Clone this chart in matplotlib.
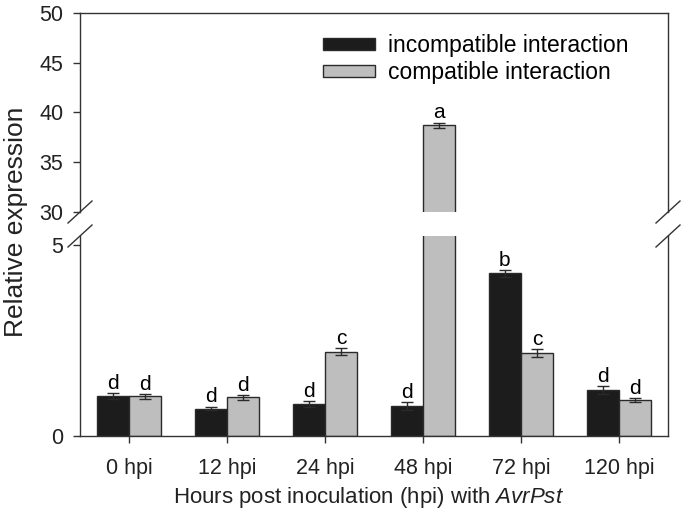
import matplotlib
matplotlib.use('Agg')
import matplotlib.pyplot as plt
import numpy as np

plt.rcParams['font.family'] = ['Liberation Sans', 'DejaVu Sans']
plt.rcParams['mathtext.fontset'] = 'custom'
plt.rcParams['mathtext.rm'] = 'Liberation Sans'
plt.rcParams['mathtext.it'] = 'Liberation Sans:italic'

# data
timepoints = ['0 hpi', '12 hpi', '24 hpi', '48 hpi', '72 hpi', '120 hpi']
incompatible = [1.05, 0.72, 0.84, 0.79, 4.26, 1.20]
incompatible_err = [0.08, 0.05, 0.08, 0.10, 0.09, 0.10]
incompatible_letters = ['d', 'd', 'd', 'd', 'b', 'd']
compatible = [1.04, 1.01, 2.21, 38.74, 2.18, 0.94]
compatible_err = [0.06, 0.07, 0.10, 0.25, 0.10, 0.06]
compatible_letters = ['d', 'd', 'c', 'a', 'c', 'd']

black = '#1c1c1c'
grey = '#bebebe'
edge = '#2a2a2a'

fig = plt.figure(figsize=(6.85, 5.12), dpi=100)
W, H = 685, 512
left, right = 80 / W, 668 / W
ax_top = fig.add_axes([left, 1 - 212 / H, right - left, (212 - 13) / H])
ax_bot = fig.add_axes([left, 1 - 436 / H, right - left, (436 - 236) / H])

x = np.arange(len(timepoints))
w = 0.33

for ax in (ax_top, ax_bot):
    ax.bar(x - w / 2, incompatible, w, color=black, edgecolor=edge, linewidth=1,
           yerr=incompatible_err, capsize=4.3, error_kw=dict(elinewidth=1, capthick=1, ecolor=edge),
           label='incompatible interaction')
    ax.bar(x + w / 2, compatible, w, color=grey, edgecolor=edge, linewidth=1,
           yerr=compatible_err, capsize=4.3, error_kw=dict(elinewidth=1, capthick=1, ecolor=edge),
           label='compatible interaction')
    ax.set_xlim(-0.5, 5.5)
    for sp in ax.spines.values():
        sp.set_linewidth(1)
        sp.set_color('#333333')
    ax.tick_params(direction='out', length=5, width=1, labelsize=15.5, colors='#333333',
                   labelcolor='#222222')
    ax.tick_params(axis='y', pad=7)

ax_top.set_ylim(30, 50)
ax_top.set_yticks([30, 35, 40, 45, 50])
ax_top.spines['bottom'].set_visible(False)
ax_top.tick_params(axis='x', bottom=False, labelbottom=False)

ax_bot.set_ylim(0, 5.24)
ax_bot.set_yticks([0, 5])
ax_bot.spines['top'].set_visible(False)
ax_bot.set_xticks(x)
ax_bot.set_xticklabels(timepoints)
ax_bot.tick_params(axis='x', pad=11)

fig.text(369 / W, 1 - 497 / H, r'Hours post inoculation (hpi) with $\it{AvrPst}$',
         ha='center', va='center', fontsize=16, color='#222222')

# significance letters
for i in range(len(timepoints)):
    for xv, v, e, t in ((x[i] - w / 2, incompatible[i], incompatible_err[i], incompatible_letters[i]),
                        (x[i] + w / 2, compatible[i], compatible_err[i], compatible_letters[i])):
        ax = ax_top if v > 30 else ax_bot
        ax.annotate(t, (xv, v + e), xytext=(0, 3), textcoords='offset points',
                    ha='center', va='baseline', fontsize=15)

# break marks
d = 12 / 588
dy_top = 11 / 199
dy_bot = 11 / 200
kw = dict(color='#333333', linewidth=1, clip_on=False)
for xs in (0, 1):
    ax_top.plot([xs - d, xs + d], [-dy_top, dy_top], transform=ax_top.transAxes, **kw)
    ax_bot.plot([xs - d, xs + d], [1 - dy_bot, 1 + dy_bot], transform=ax_bot.transAxes, **kw)

fig.text(16 / W, 1 - 222 / H, 'Relative expression', rotation=90, ha='center', va='center',
         fontsize=19, color='#222222')

handles, labels = ax_top.get_legend_handles_labels()
ax_top.legend(handles, labels, loc='upper left', bbox_to_anchor=(323 / W, 1 - 34 / H),
              bbox_transform=fig.transFigure, frameon=False, fontsize=16.5,
              handlelength=2.27, handleheight=0.4, handletextpad=0.55, labelspacing=0.18,
              borderpad=0, borderaxespad=0)

fig.savefig('out.png', dpi=100)
